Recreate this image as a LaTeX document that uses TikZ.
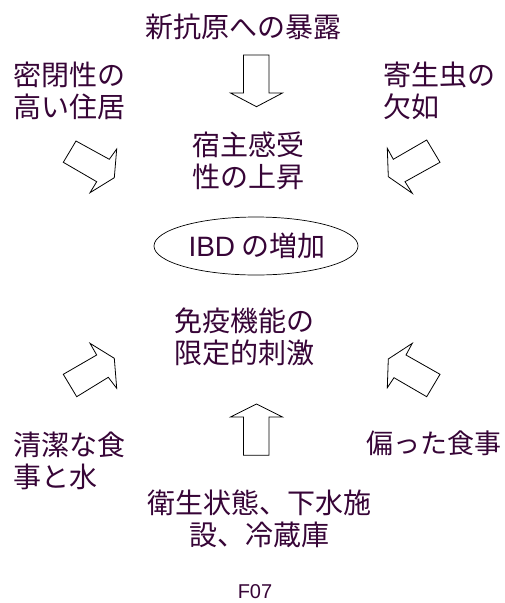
\documentclass[tikz,border=0pt]{standalone}
\usepackage{fontspec}
\setmainfont{Liberation Sans}
\newfontfamily\jp{Noto Sans CJK JP}
\usetikzlibrary{shapes.geometric}
\definecolor{txt}{RGB}{55,5,55}
\tikzset{
  lbl/.style={text=txt, inner sep=0pt, font=\jp\fontsize{28}{32}\selectfont},
  fat/.style={draw=black, line width=0.8pt, fill=white, line join=miter},
}
\begin{document}
\begin{tikzpicture}[x=1pt,y=-1pt]
\useasboundingbox (0,0) rectangle (505,603);
% texts
\node[lbl] (t1) at (243,27) {新抗原への暴露};
\node[lbl, anchor=west, align=left] (t2) at (13,91) {密閉性の\\高い住居};
\node[lbl, anchor=west, align=left] (t3) at (383,91) {寄生虫の\\欠如};
\node[lbl, align=center] (t4) at (248,161) {宿主感受\\性の上昇};
\node[draw=black, line width=0.7pt, ellipse, minimum width=204pt, minimum height=58pt, inner sep=0pt] (ibd) at (256,246) {};
\node[lbl] (ibdt) at (257,246) {{\fontspec{Liberation Sans}IBD} の増加};
\node[lbl, align=center] (t5) at (244,337) {免疫機能の\\限定的刺激};
\node[lbl, anchor=west, align=left] (t6) at (13,461) {清潔な食\\事と水};
\node[lbl, anchor=east, font=\jp\fontsize{27}{32}\selectfont] (t7) at (502,443) {偏った食事};
\node[lbl, align=center] (t8) at (259,519) {衛生状態、下水施\\設、冷蔵庫};
\node[text=txt, inner sep=0pt, font=\fontsize{20}{24}\selectfont] (f07) at (255,592) {F07};
% block arrows
\draw[fat] (243.5,55) -- (269,55) -- (269,93) -- (282.5,93) -- (256.5,106.7) -- (230.5,93) -- (243.5,93) -- cycle;
\draw[fat] (243.5,455.3) -- (269,455.3) -- (269,417) -- (282.5,417) -- (256.5,404) -- (230.5,417) -- (243.5,417) -- cycle;
\draw[fat] (76,141) -- (109.3,159.3) -- (116.7,149) -- (114.3,177.7) -- (90,192.7) -- (96.7,181.7) -- (63.3,162.3) -- cycle;
\draw[fat] (426.7,140) -- (393.3,159.3) -- (387.3,148.3) -- (388.3,176.7) -- (412.3,193.3) -- (405,181.7) -- (440,162.3) -- cycle;
\draw[fat] (76.7,396.7) -- (108.3,377.3) -- (116.7,388.3) -- (114.3,358.3) -- (90,343.3) -- (96.7,355) -- (63.3,374.3) -- cycle;
\draw[fat] (426.7,396.7) -- (394,377.7) -- (387.3,387.7) -- (388.3,359) -- (412.3,343.3) -- (406,355) -- (440,374.3) -- cycle;
\end{tikzpicture}
\end{document}
